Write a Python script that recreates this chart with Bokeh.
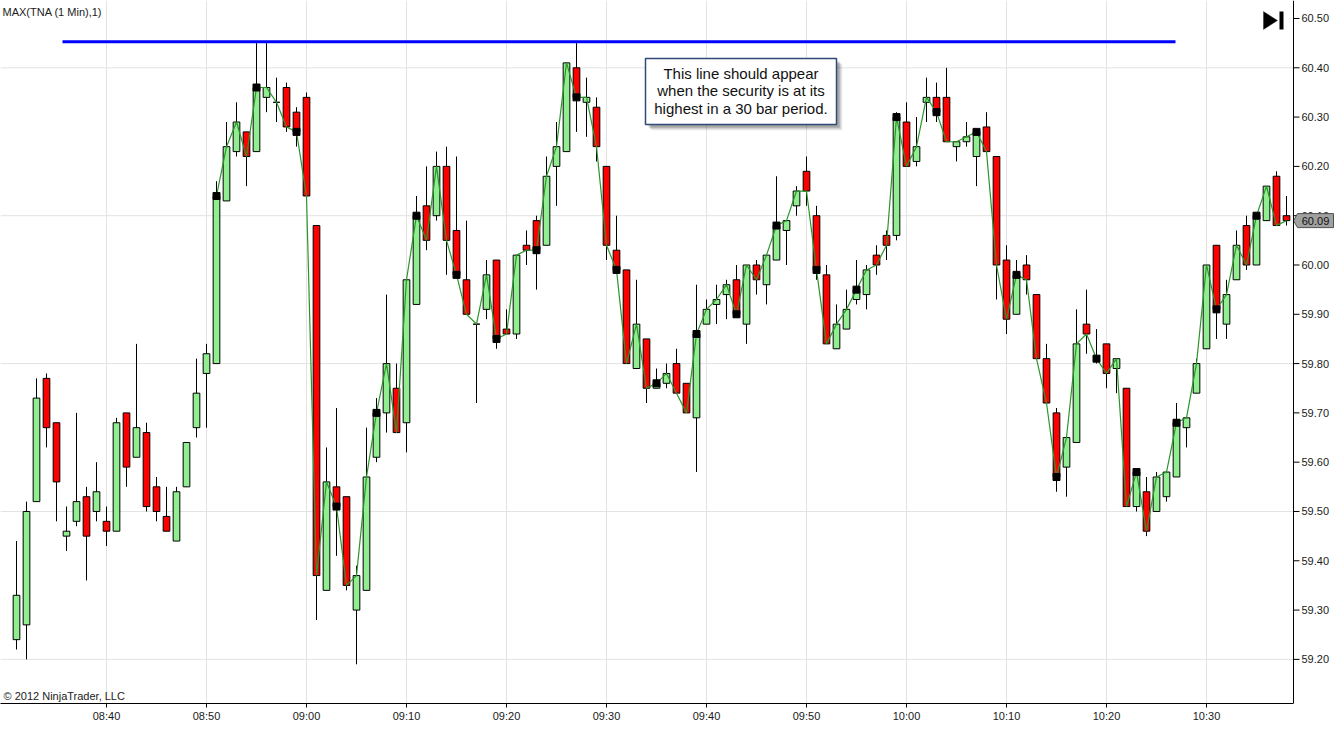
import pandas as pd
from bokeh.plotting import figure
from bokeh.models import (ColumnDataSource, FixedTicker, DatetimeTickFormatter,
                          Label, BoxAnnotation, PolyAnnotation, Range1d, Span)
from bokeh.core.properties import value
from bokeh.embed import file_html
from bokeh.resources import INLINE

# ---------------- data ----------------
DAY = "2012-01-01 "
first_bar = "08:31"

opens = [59.24, 59.27, 59.52, 59.77, 59.68, 59.45, 59.48, 59.53, 59.50, 59.48,
         59.46, 59.70, 59.61, 59.66, 59.55, 59.49, 59.44, 59.55, 59.67, 59.78,
         59.80, 60.13, 60.23, 60.27, 60.23, 60.34, 60.33, 60.36, 60.31, 60.34,
         60.08, 59.34, 59.55, 59.53, 59.30, 59.34, 59.61, 59.70, 59.75, 59.68,
         59.92, 60.12, 60.10, 60.20, 60.07, 59.97, 59.88, 59.91, 60.01, 59.87,
         59.86, 60.04, 60.09, 60.04, 60.20, 60.23, 60.40, 60.33, 60.32, 60.20,
         60.03, 59.99, 59.79, 59.85, 59.75, 59.76, 59.80, 59.76, 59.69, 59.88,
         59.92, 59.94, 59.97, 59.88, 60.00, 59.96, 60.01, 60.07, 60.12, 60.19,
         60.10, 59.98, 59.83, 59.87, 59.93, 59.94, 60.02, 60.06, 60.06, 60.29,
         60.21, 60.33, 60.34, 60.34, 60.24, 60.25, 60.22, 60.28, 60.22, 60.01,
         59.90, 60.00, 59.94, 59.81, 59.70, 59.59, 59.64, 59.88, 59.81, 59.84,
         59.79, 59.75, 59.51, 59.54, 59.50, 59.53, 59.57, 59.67, 59.74, 59.83,
         60.04, 59.88, 59.97, 60.08, 60.00, 60.09, 60.18, 60.10]
highs = [59.44, 59.52, 59.77, 59.78, 59.68, 59.51, 59.70, 59.55, 59.60, 59.51,
         59.69, 59.70, 59.84, 59.68, 59.57, 59.55, 59.55, 59.64, 59.81, 59.84,
         60.17, 60.29, 60.33, 60.27, 60.45, 60.45, 60.38, 60.37, 60.32, 60.35,
         60.08, 59.63, 59.71, 59.53, 59.39, 59.67, 59.73, 59.94, 59.80, 59.97,
         60.14, 60.20, 60.23, 60.24, 60.22, 60.09, 59.88, 60.01, 60.01, 59.91,
         60.02, 60.07, 60.10, 60.22, 60.29, 60.41, 60.45, 60.38, 60.34, 60.20,
         60.10, 59.99, 59.97, 59.85, 59.79, 59.80, 59.83, 59.76, 59.96, 59.93,
         59.96, 59.97, 60.00, 60.00, 60.01, 60.02, 60.18, 60.09, 60.16, 60.22,
         60.12, 60.00, 59.92, 59.95, 60.01, 60.00, 60.04, 60.07, 60.31, 60.33,
         60.30, 60.38, 60.37, 60.40, 60.25, 60.29, 60.27, 60.31, 60.22, 60.04,
         60.01, 60.02, 59.94, 59.84, 59.71, 59.65, 59.91, 59.95, 59.87, 59.84,
         59.81, 59.75, 59.58, 59.57, 59.58, 59.58, 59.72, 59.69, 59.81, 60.00,
         60.04, 59.97, 60.07, 60.10, 60.10, 60.16, 60.19, 60.14]
lows = [59.22, 59.20, 59.52, 59.63, 59.48, 59.42, 59.47, 59.36, 59.48, 59.43,
        59.46, 59.55, 59.61, 59.50, 59.48, 59.46, 59.44, 59.55, 59.65, 59.67,
        59.80, 60.13, 60.22, 60.16, 60.23, 60.31, 60.29, 60.27, 60.24, 60.14,
        59.28, 59.34, 59.41, 59.34, 59.19, 59.34, 59.60, 59.66, 59.66, 59.62,
        59.92, 60.03, 60.09, 59.98, 59.98, 59.90, 59.72, 59.89, 59.83, 59.86,
        59.85, 60.00, 59.95, 60.04, 60.12, 60.23, 60.27, 60.26, 60.21, 60.01,
        59.99, 59.80, 59.79, 59.72, 59.75, 59.75, 59.74, 59.70, 59.58, 59.88,
        59.88, 59.89, 59.90, 59.84, 59.94, 59.92, 60.01, 60.00, 60.10, 60.12,
        59.97, 59.84, 59.83, 59.87, 59.92, 59.91, 59.98, 60.01, 60.05, 60.20,
        60.20, 60.29, 60.29, 60.25, 60.21, 60.24, 60.16, 60.23, 59.93, 59.86,
        59.90, 59.94, 59.81, 59.72, 59.54, 59.53, 59.64, 59.82, 59.80, 59.75,
        59.74, 59.51, 59.50, 59.45, 59.50, 59.52, 59.57, 59.63, 59.74, 59.83,
        59.85, 59.85, 59.97, 59.99, 60.00, 60.09, 60.08, 60.08]
closes = [59.33, 59.50, 59.73, 59.67, 59.56, 59.46, 59.52, 59.45, 59.54, 59.46,
          59.68, 59.59, 59.67, 59.51, 59.50, 59.46, 59.54, 59.64, 59.74, 59.82,
          60.14, 60.24, 60.29, 60.22, 60.36, 60.36, 60.33, 60.28, 60.27, 60.14,
          59.37, 59.56, 59.51, 59.35, 59.37, 59.57, 59.70, 59.80, 59.66, 59.97,
          60.10, 60.05, 60.20, 60.05, 59.98, 59.90, 59.88, 59.98, 59.85, 59.86,
          60.02, 60.03, 60.03, 60.18, 60.24, 60.41, 60.34, 60.34, 60.24, 60.04,
          59.99, 59.80, 59.88, 59.75, 59.76, 59.78, 59.74, 59.70, 59.86, 59.91,
          59.93, 59.96, 59.90, 60.00, 59.97, 60.02, 60.08, 60.09, 60.15, 60.15,
          59.99, 59.84, 59.88, 59.91, 59.95, 59.99, 60.00, 60.04, 60.30, 60.20,
          60.24, 60.34, 60.31, 60.25, 60.25, 60.26, 60.27, 60.23, 60.00, 59.89,
          59.98, 59.97, 59.81, 59.72, 59.57, 59.65, 59.84, 59.86, 59.81, 59.78,
          59.81, 59.51, 59.58, 59.46, 59.57, 59.58, 59.68, 59.69, 59.80, 60.00,
          59.91, 59.94, 60.04, 60.00, 60.10, 60.16, 60.08, 60.09]

x_tick_labels = ["08:40", "08:50", "09:00", "09:10", "09:20", "09:30", "09:40",
                 "09:50", "10:00", "10:10", "10:20", "10:30"]
y_tick_values = [59.2, 59.3, 59.4, 59.5, 59.6, 59.7, 59.8, 59.9, 60.0,
                 60.1, 60.2, 60.3, 60.4, 60.5]
y_grid_values = [59.2, 59.5, 59.8, 60.1, 60.4]

indicator_first_bar = 20     # close line / markers start here
marker_every = 4             # black squares every 4th bar
max_level = 60.453           # 30-bar highest high (blue line)
max_line_from = "08:35:36"
max_line_to = "10:26:54"
last_price = 60.09
title_text = "MAX(TNA (1 Min),1)"
copyright_text = "\u00a9 2012 NinjaTrader, LLC"
note_lines = ["This line should appear",
              "when the security is at its",
              "highest in a 30 bar period."]

# ---------------- build ----------------
W, H = 1340, 729
BOTTOM_BORDER = 26
FRAME_H = H - BOTTOM_BORDER
FONT = "Liberation Sans"
TXT = "#1a1a1a"

view_start = pd.Timestamp(DAY + "08:29:24")
view_end = pd.Timestamp(DAY + "10:43:24")
axis_at = pd.Timestamp(DAY + "10:38:42")      # price-axis line position
sec = pd.Timedelta(seconds=1)

n = len(opens)
times = pd.date_range(DAY + first_bar, periods=n, freq="min")
src = ColumnDataSource(dict(
    t=times, o=opens, h=highs, l=lows, c=closes,
    top=[max(o, c) for o, c in zip(opens, closes)],
    bottom=[min(o, c) for o, c in zip(opens, closes)],
    color=["#90EE90" if c >= o else "#FF0000" for o, c in zip(opens, closes)],
))

p = figure(width=W, height=H, x_axis_type="datetime",
           x_range=Range1d(view_start, view_end),
           y_range=Range1d(59.1105, 60.5365),
           output_backend="svg", toolbar_location=None,
           min_border_left=0, min_border_top=0,
           min_border_right=0, min_border_bottom=BOTTOM_BORDER)
p.styles = {"position": "absolute", "left": "0px", "top": "0px"}
p.outline_line_color = None
p.background_fill_color = "white"
p.border_fill_color = "white"
p.yaxis.visible = False
p.ygrid.visible = False

def ms(ts):
    return int(ts.value // 10**6)

# x axis
tick_ms = [ms(pd.Timestamp(DAY + s)) for s in x_tick_labels]
p.xaxis.ticker = FixedTicker(ticks=tick_ms)
p.xaxis.formatter = DatetimeTickFormatter(minutes="%H:%M", hourmin="%H:%M", hours="%H:%M",
                                          minsec="%H:%M", seconds="%H:%M")
p.xaxis.major_label_overrides = {m: s for m, s in zip(tick_ms, x_tick_labels)}
p.xaxis.bounds = (ms(view_start), ms(axis_at))
p.xaxis.major_tick_out = 4
p.xaxis.major_tick_in = 0
p.xaxis.minor_tick_out = 0
p.xaxis.minor_tick_in = 0
p.xaxis.major_label_standoff = 2
p.xaxis.axis_line_color = "black"
p.xaxis.major_tick_line_color = "black"
p.xaxis.major_label_text_font = FONT
p.xaxis.major_label_text_font_size = "11px"
p.xaxis.major_label_text_color = TXT
p.xgrid.grid_line_color = "#e3e3e3"

# horizontal grid lines (stop at the price axis)
p.segment(x0=[view_start] * len(y_grid_values), y0=y_grid_values,
          x1=[axis_at] * len(y_grid_values), y1=y_grid_values,
          line_color="#e3e3e3", line_width=1)

# candles
p.segment(x0="t", y0="l", x1="t", y1="h", source=src, line_color="black", line_width=1)
p.vbar(x="t", width=40000, top="top", bottom="bottom", fill_color="color",
       line_color="black", line_width=1, source=src)

# close line + markers
p.line(times[indicator_first_bar:], closes[indicator_first_bar:],
       line_color="#2a962a", line_width=1.2)
p.scatter(times[indicator_first_bar::marker_every], closes[indicator_first_bar::marker_every],
          marker="square", size=7, fill_color="black", line_color="black")

# blue max line
p.segment(x0=[pd.Timestamp(DAY + max_line_from)], y0=[max_level],
          x1=[pd.Timestamp(DAY + max_line_to)], y1=[max_level],
          line_color="#0000FF", line_width=3)

# price axis on the right (ticks + labels)
k = len(y_tick_values)
p.segment(x0=[axis_at] * k, y0=y_tick_values, x1=[axis_at + 36 * sec] * k, y1=y_tick_values,
          line_color="black", line_width=1)
p.text(x=[axis_at + 48 * sec] * k, y=y_tick_values, text=[f"{v:.2f}" for v in y_tick_values],
       text_align="left", text_baseline="middle", text_font=value(FONT),
       text_font_size="11px", text_color=TXT)
p.add_layout(Span(location=ms(axis_at), dimension="height", line_color="black", line_width=1))

# last price tag on the axis
hh = 0.0142
p.patch(x=[axis_at, axis_at + 24 * sec, axis_at + 240 * sec, axis_at + 240 * sec, axis_at + 24 * sec],
        y=[last_price, last_price + hh, last_price + hh, last_price - hh, last_price - hh],
        fill_color="#a0a0a0", line_color="#505050", line_width=1)
p.text(x=[axis_at + 132 * sec], y=[last_price], text=[f"{last_price:.2f}"],
       text_align="center", text_baseline="middle", text_font=value(FONT),
       text_font_size="11px", text_color="#111111")

# note box with shadow
def sy(y_top):
    return FRAME_H - y_top

for d, a in [(6, 0.06), (5, 0.08), (4, 0.12), (3, 0.14)]:
    p.add_layout(BoxAnnotation(left=645 + d, right=836 + d, top=sy(58 + d), bottom=sy(124 + d),
                               left_units="screen", right_units="screen",
                               top_units="screen", bottom_units="screen",
                               fill_color="black", fill_alpha=a, line_color=None))
p.add_layout(BoxAnnotation(left=645, right=836, top=sy(58), bottom=sy(124),
                           left_units="screen", right_units="screen",
                           top_units="screen", bottom_units="screen",
                           fill_color="white", fill_alpha=1.0,
                           line_color="#2E4A78", line_width=1.5, line_alpha=1.0))
for i, line in enumerate(note_lines):
    p.add_layout(Label(x=740.5, y=sy(72.5 + 17.5 * i), x_units="screen", y_units="screen",
                       text=line, text_align="center", text_baseline="middle",
                       text_font=FONT, text_font_size="15px", text_color="#111111"))

# title / copyright
p.add_layout(Label(x=2, y=sy(11), x_units="screen", y_units="screen", text=title_text,
                   text_align="left", text_baseline="middle", text_font=FONT,
                   text_font_size="11px", text_color="#222222"))
p.add_layout(Label(x=3, y=sy(695), x_units="screen", y_units="screen", text=copyright_text,
                   text_align="left", text_baseline="middle", text_font=FONT,
                   text_font_size="11px", text_color="#222222"))

# "scroll to end" icon
p.add_layout(PolyAnnotation(xs=[1263, 1263, 1277], ys=[sy(11), sy(29), sy(20)],
                            xs_units="screen", ys_units="screen",
                            fill_color="black", fill_alpha=1.0, line_color="black"))
p.add_layout(BoxAnnotation(left=1279, right=1283, top=sy(11), bottom=sy(29),
                           left_units="screen", right_units="screen",
                           top_units="screen", bottom_units="screen",
                           fill_color="black", fill_alpha=1.0, line_color=None))

open("out.html", "w").write(file_html(p, INLINE, "chart"))
